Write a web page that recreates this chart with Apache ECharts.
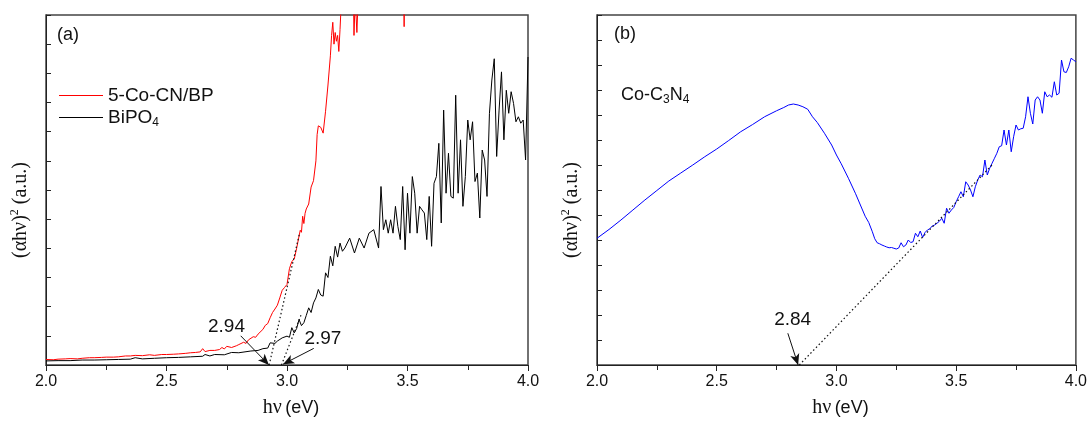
<!DOCTYPE html>
<html>
<head>
<meta charset="utf-8">
<script src="https://cdn.jsdelivr.net/npm/echarts@6/dist/echarts.min.js"></script>
<style>html,body{margin:0;padding:0;background:#fff}#c{width:1090px;height:423px}</style>
</head>
<body>
<div id="c"></div>
<script>
// ---------- data (hv in eV, (alpha h nu)^2 in a.u.) ----------
const xTicks = [2.0, 2.5, 3.0, 3.5, 4.0];

const redSeries = [
 [2.0,0.19],[2.03,0.18],[2.05,0.2],[2.08,0.21],[2.1,0.22],[2.13,0.21],[2.15,0.23],[2.18,0.25],[2.2,0.25],[2.23,0.26],
 [2.25,0.27],[2.28,0.27],[2.3,0.28],[2.33,0.31],[2.35,0.31],[2.37,0.33],[2.4,0.32],[2.43,0.35],[2.45,0.33],[2.48,0.36],
 [2.5,0.36],[2.53,0.37],[2.55,0.38],[2.58,0.4],[2.6,0.42],[2.62,0.43],[2.64,0.45],[2.65,0.56],[2.66,0.46],[2.68,0.5],
 [2.7,0.5],[2.72,0.53],[2.73,0.6],[2.74,0.55],[2.75,0.64],[2.77,0.6],[2.79,0.66],[2.8,0.7],[2.82,0.78],[2.83,0.74],
 [2.84,0.86],[2.86,0.97],[2.87,0.95],[2.88,1.06],[2.9,1.22],[2.91,1.36],[2.92,1.42],[2.93,1.62],[2.94,1.8],[2.95,1.92],
 [2.96,2.05],[2.97,2.3],[2.98,2.56],[2.99,2.66],[3.0,2.76],[3.005,2.72],[3.01,3.3],[3.02,3.55],[3.03,3.63],[3.04,4.0],
 [3.05,4.42],[3.055,4.62],[3.06,4.55],[3.065,5.1],[3.07,4.85],[3.075,5.2],[3.08,5.35],[3.09,5.52],[3.1,6.1],[3.11,6.32],
 [3.12,7.0],[3.125,7.9],[3.13,8.2],[3.14,8.15],[3.15,7.95],[3.16,8.7],[3.17,9.6],[3.18,10.6],[3.185,11.3],[3.19,11.75],
 [3.195,11.0],[3.2,11.4],[3.205,11.1],[3.21,11.3],[3.215,10.75],[3.22,11.5],[3.225,12.4],[3.24,12.6],[3.26,12.5],[3.27,12.2],
 [3.275,13.0],[3.278,11.3],[3.283,12.6],[3.29,11.4],[3.295,12.5],[3.31,13.0],[3.35,13.5],[3.4,14.0],[3.45,14.0],[3.483,14.0],
 [3.486,11.6],[3.489,14.0],[3.55,14.5],[3.6,15.0],[3.7,15.5],[3.8,16.0],[3.9,16.5],[4.0,17.0]
];

const blackSeries = [
 [2.0,0.14],[2.05,0.15],[2.1,0.15],[2.15,0.17],[2.2,0.17],[2.25,0.18],[2.3,0.19],[2.35,0.2],[2.37,0.25],[2.4,0.21],
 [2.45,0.23],[2.5,0.25],[2.55,0.26],[2.6,0.28],[2.65,0.3],[2.66,0.36],[2.68,0.31],[2.7,0.36],[2.74,0.35],[2.77,0.43],
 [2.8,0.42],[2.85,0.48],[2.88,0.5],[2.9,0.56],[2.92,0.58],[2.93,0.76],[2.95,0.74],[2.96,0.82],[2.98,0.93],[3.0,0.99],
 [3.01,0.95],[3.02,1.28],[3.03,1.1],[3.04,1.25],[3.05,1.56],[3.06,1.35],[3.07,1.45],[3.08,1.7],[3.09,1.96],[3.1,1.8],
 [3.11,2.13],[3.12,2.3],[3.13,2.59],[3.14,2.4],[3.15,2.36],[3.16,3.16],[3.17,3.0],[3.18,3.73],[3.19,3.4],[3.2,4.07],
 [3.21,3.7],[3.22,4.18],[3.23,3.9],[3.24,4.01],[3.26,4.35],[3.28,3.84],[3.3,4.35],[3.32,4.01],[3.34,4.52],[3.36,4.64],
 [3.38,4.01],[3.39,6.12],[3.4,4.64],[3.41,4.98],[3.42,4.52],[3.43,4.98],[3.44,4.52],[3.45,5.44],[3.46,4.75],[3.47,4.3],
 [3.48,6.12],[3.49,3.95],[3.5,5.89],[3.51,4.52],[3.52,6.46],[3.53,5.89],[3.54,4.52],[3.55,5.44],[3.56,5.32],[3.57,5.21],
 [3.58,4.3],[3.59,5.78],[3.6,4.07],[3.61,6.23],[3.62,6.46],[3.63,7.6],[3.64,4.87],[3.65,8.74],[3.66,5.89],[3.67,7.26],
 [3.68,5.78],[3.69,5.72],[3.7,9.25],[3.71,5.89],[3.72,7.72],[3.73,5.44],[3.74,6.46],[3.75,8.4],[3.76,7.72],[3.77,8.34],
 [3.78,6.29],[3.79,6.58],[3.8,5.04],[3.81,7.37],[3.82,7.03],[3.83,5.78],[3.84,8.63],[3.85,9.77],[3.86,10.5],[3.87,7.15],
 [3.88,8.74],[3.89,10.05],[3.9,7.72],[3.91,9.42],[3.92,8.63],[3.93,9.37],[3.94,8.97],[3.95,8.34],[3.96,8.51],[3.97,8.29],
 [3.98,8.4],[3.99,7.03],[4.0,10.56]
];

const blueSeries = [
 [2.0,5.07],[2.05,5.42],[2.1,5.8],[2.15,6.2],[2.2,6.6],[2.25,6.98],[2.3,7.36],[2.35,7.68],[2.4,8.0],[2.45,8.33],
 [2.5,8.64],[2.55,8.98],[2.6,9.33],[2.65,9.62],[2.7,9.93],[2.75,10.17],[2.78,10.3],[2.8,10.4],[2.82,10.44],[2.84,10.4],
 [2.86,10.33],[2.88,10.23],[2.9,9.93],[2.92,9.7],[2.95,9.27],[2.98,8.8],[3.0,8.4],[3.02,8.05],[3.05,7.47],[3.08,6.85],
 [3.1,6.4],[3.12,5.95],[3.135,5.7],[3.15,5.33],[3.16,5.05],[3.17,4.89],[3.18,4.85],[3.19,4.8],[3.2,4.76],[3.21,4.72],
 [3.22,4.69],[3.23,4.7],[3.24,4.67],[3.25,4.64],[3.26,4.68],[3.27,4.89],[3.28,4.73],[3.29,4.8],[3.3,5.0],[3.31,4.9],
 [3.32,4.93],[3.33,5.27],[3.34,5.13],[3.35,5.36],[3.36,5.1],[3.37,5.3],[3.38,5.4],[3.39,5.45],[3.4,5.56],[3.41,5.6],
 [3.42,5.67],[3.43,5.75],[3.44,5.87],[3.45,5.67],[3.46,6.27],[3.47,6.07],[3.48,6.2],[3.49,6.3],[3.5,6.53],[3.51,6.73],
 [3.52,6.93],[3.53,6.73],[3.54,7.33],[3.55,7.2],[3.56,7.0],[3.57,6.73],[3.58,7.13],[3.59,7.4],[3.6,7.6],[3.61,7.53],
 [3.62,8.2],[3.63,7.6],[3.64,7.87],[3.65,8.07],[3.66,8.27],[3.67,8.47],[3.68,8.73],[3.69,8.77],[3.7,9.4],[3.71,8.8],
 [3.72,9.4],[3.73,8.53],[3.74,9.13],[3.75,9.6],[3.76,9.4],[3.77,9.45],[3.78,9.47],[3.79,9.93],[3.8,10.73],[3.81,10.07],
 [3.82,9.64],[3.83,10.6],[3.84,10.73],[3.85,10.6],[3.86,10.07],[3.87,10.93],[3.88,10.73],[3.89,10.8],[3.9,10.71],[3.91,11.33],
 [3.92,10.8],[3.93,10.87],[3.94,12.2],[3.95,11.73],[3.96,11.7],[3.97,11.93],[3.98,12.27],[3.99,12.2],[4.0,12.13]
];

// tangent (dotted) lines and arrows: [start, end] in data units
const tangentsA = [[[2.926,0],[3.053,4.55]], [[2.977,0],[3.06,1.75]]];
const arrowsA = [[[2.808,1.0],[2.925,0.0]], [[3.111,0.57],[2.984,0.03]]];
const gapLabelsA = [{text:'2.94', at:[2.749,1.30]}, {text:'2.97', at:[3.149,0.91]}];

const tangentsB = [[[2.845,0],[3.65,8.0]]];
const arrowsB = [[[2.797,1.27],[2.84,0.0]]];
const gapLabelsB = [{text:'2.84', at:[2.817,1.8]}];

const seriesNames = ['5-Co-CN/BP', 'BiPO4'];
// ---------------------------------------------------------------

const FONT = 'Liberation Sans, Arial, sans-serif';
const SERIF = 'Liberation Serif, Times New Roman, serif';

function xAxisDef(gi) {
  return {
    type: 'value', gridIndex: gi, min: 2, max: 4, interval: 0.5,
    axisLine: {show: true, lineStyle: {color: '#222', width: 1}},
    axisTick: {show: true, inside: false, length: 6, lineStyle: {color: '#222'}},
    minorTick: {show: true, splitNumber: 2, length: 5, lineStyle: {color: '#222'}},
    splitLine: {show: false},
    axisLabel: {color: '#111', fontFamily: FONT, fontSize: 16, margin: 9,
      formatter: v => xTicks.indexOf(v) >= 0 ? v.toFixed(1) : ''},
    name: '{s|hν} {n|(eV)}', nameLocation: 'middle', nameGap: 33,
    nameTextStyle: {padding: [0, 0, 0, 8], rich: {
      s: {fontFamily: SERIF, fontSize: 20, color: '#111'},
      n: {fontFamily: FONT, fontSize: 18, color: '#111'}
    }}
  };
}
function yAxisDef(gi, max) {
  return {
    type: 'value', gridIndex: gi, min: 0, max: max, interval: 1,
    axisLine: {show: true, lineStyle: {color: '#222', width: 1}},
    axisTick: {show: true, inside: true, length: 5, lineStyle: {color: '#222'}},
    splitLine: {show: false},
    axisLabel: {show: false},
    name: '{m|(αhν)}{p|2}{m| (a.u.)}', nameLocation: 'middle', nameGap: 13, nameRotate: 90,
    nameTextStyle: {padding: [0, 40, 0, 0], rich: {
      m: {fontFamily: SERIF, fontSize: 20, color: '#111', lineHeight: 24},
      p: {fontFamily: SERIF, fontSize: 12, color: '#111', lineHeight: 13, verticalAlign: 'top'}
    }}
  };
}
function lineMarks(tangents, arrows) {
  const data = [];
  tangents.forEach(t => data.push([{coord: t[0], symbol: 'none', lineStyle: {type: [1.5, 2.5], color: '#111', width: 1.2}},
                                   {coord: t[1], symbol: 'none'}]));
  arrows.forEach(a => data.push([{coord: a[0], symbol: 'none', lineStyle: {type: 'solid', color: '#111', width: 1}},
                                 {coord: a[1], symbol: 'arrow', symbolSize: [7, 11]}]));
  return {silent: true, animation: false, label: {show: false}, symbol: ['none', 'none'], data: data};
}
function pointMarks(labels) {
  return {silent: true, animation: false, symbol: 'circle', symbolSize: 1,
    itemStyle: {color: 'rgba(0,0,0,0)'},
    label: {show: true, position: 'inside', color: '#111', fontFamily: FONT, fontSize: 19},
    data: labels.map(l => ({coord: l.at, value: l.text, label: {formatter: l.text}}))};
}

const chart = echarts.init(document.getElementById('c'), null, {renderer: 'canvas'});
chart.setOption({
  animation: false,
  backgroundColor: '#fff',
  grid: [
    {left: 46, top: 15, width: 482, height: 351, show: true, borderColor: '#444', borderWidth: 1.5, backgroundColor: 'transparent'},
    {left: 597, top: 15, width: 479, height: 350, show: true, borderColor: '#444', borderWidth: 1.5, backgroundColor: 'transparent'}
  ],
  xAxis: [xAxisDef(0), xAxisDef(1)],
  yAxis: [yAxisDef(0, 12), yAxisDef(1, 14)],
  legend: {
    orient: 'vertical', left: 59, top: 86, padding: 0, itemWidth: 44, itemHeight: 1, itemGap: 3,
    icon: 'rect', selectedMode: false,
    data: seriesNames,
    formatter: n => n === 'BiPO4' ? '{t|BiPO}{s|4}' : '{t|' + n + '}',
    textStyle: {rich: {
      t: {fontFamily: FONT, fontSize: 19, color: '#111', lineHeight: 22},
      s: {fontFamily: FONT, fontSize: 12, color: '#111', lineHeight: 12, verticalAlign: 'bottom'}
    }}
  },
  series: [
    {name: seriesNames[0], type: 'line', xAxisIndex: 0, yAxisIndex: 0, data: redSeries, showSymbol: false,
     clip: true, lineStyle: {color: '#ff0000', width: 1}, itemStyle: {color: '#ff0000'},
     markLine: lineMarks(tangentsA, arrowsA), markPoint: pointMarks(gapLabelsA)},
    {name: seriesNames[1], type: 'line', xAxisIndex: 0, yAxisIndex: 0, data: blackSeries, showSymbol: false,
     clip: true, lineStyle: {color: '#000000', width: 1}, itemStyle: {color: '#000000'}},
    {name: 'Co-C3N4', type: 'line', xAxisIndex: 1, yAxisIndex: 1, data: blueSeries, showSymbol: false,
     clip: true, lineStyle: {color: '#0000ff', width: 1}, itemStyle: {color: '#0000ff'},
     markLine: lineMarks(tangentsB, arrowsB), markPoint: pointMarks(gapLabelsB)}
  ],
  graphic: [
    {type: 'text', left: 57, top: 26, style: {text: '(a)', font: '18px ' + FONT, fill: '#111'}},
    {type: 'text', left: 614, top: 25, style: {text: '(b)', font: '18px ' + FONT, fill: '#111'}},
    {type: 'text', left: 621, top: 86, style: {text: '{n|Co-C}{s|3}{n|N}{s|4}', rich: {
      n: {fontFamily: FONT, fontSize: 18, fill: '#111', lineHeight: 22},
      s: {fontFamily: FONT, fontSize: 12, fill: '#111', lineHeight: 12, verticalAlign: 'bottom'}
    }}}
  ]
});
</script>
</body>
</html>
